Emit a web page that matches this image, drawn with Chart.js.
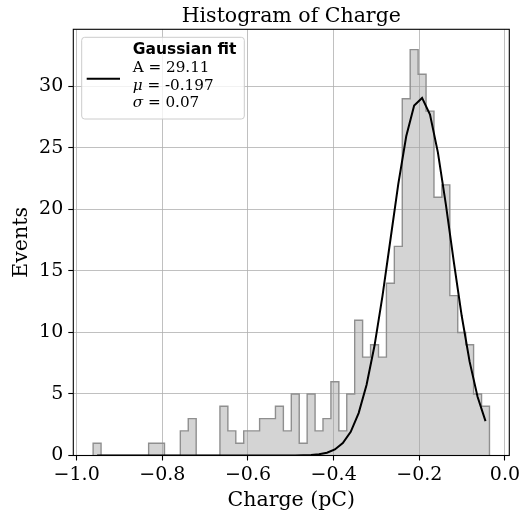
<!DOCTYPE html>
<html>
<head>
<meta charset="utf-8">
<script src="https://cdn.jsdelivr.net/npm/chart.js@4.4.1/dist/chart.umd.min.js"></script>
<style>
  html, body { margin: 0; padding: 0; background: #fff; }
  #wrap { width: 525px; height: 514px; }
</style>
</head>
<body>
<div id="wrap"><canvas id="chart" width="525" height="514"></canvas></div>
<script>
// ─── Data ───────────────────────────────────────────────────────────────────

const binEdges = [
  -0.9616, -0.9431, -0.9246, -0.9061, -0.8876, -0.8691, -0.8505, -0.8320, -0.8135, -0.7950,
  -0.7765, -0.7580, -0.7395, -0.7210, -0.7025, -0.6840, -0.6655, -0.6470, -0.6285, -0.6100,
  -0.5914, -0.5729, -0.5544, -0.5359, -0.5174, -0.4989, -0.4804, -0.4619, -0.4434, -0.4249,
  -0.4064, -0.3879, -0.3694, -0.3509, -0.3324, -0.3138, -0.2953, -0.2768, -0.2583, -0.2398,
  -0.2213, -0.2028, -0.1843, -0.1658, -0.1473, -0.1288, -0.1103, -0.0918, -0.0733, -0.0547,
  -0.0362
];

const counts = [
  1, 0, 0, 0, 0, 0, 0, 1, 1, 0,
  0, 2, 3, 0, 0, 0, 4, 2, 1, 2,
  2, 3, 3, 4, 2, 5, 1, 5, 2, 3,
  6, 2, 5, 11, 8, 9, 8, 14, 17, 29,
  33, 31, 28, 21, 22, 13, 10, 9, 5, 4
];

// Gaussian fit evaluated at the bin centres
const fitValues = [
  0, 0, 0, 0, 0, 0, 0, 0, 0, 0,
  0, 0, 0, 0, 0, 0, 0, 0, 0, 0,
  0, 0, 0, 0, 0, 0.005, 0.014, 0.037, 0.094, 0.222,
  0.489, 1.006, 1.929, 3.449, 5.749, 8.94, 12.96, 17.52, 22.08, 25.95,
  28.45, 29.07, 27.71, 24.62, 20.41, 15.77, 11.36, 7.63, 4.78, 2.79
];

const xTicks = [-1.0, -0.8, -0.6, -0.4, -0.2, 0.0];
const yTicks = [0, 5, 10, 15, 20, 25, 30];

const X_MIN = -1.0079, X_MAX = 0.0101;
const Y_MIN = 0, Y_MAX = 34.65;

const legendTitle = "Gaussian fit";
const legendRows = [
  { sym: "A", text: " = 29.11", italic: false },
  { sym: "\u03bc", text: " = -0.197", italic: true },
  { sym: "\u03c3", text: " = 0.07", italic: true },
];

// ─── Build the datasets ─────────────────────────────────────────────────────

const histPoints = [{ x: binEdges[0], y: 0 }]
  .concat(counts.map((c, i) => ({ x: binEdges[i], y: c })))
  .concat([{ x: binEdges[binEdges.length - 1], y: 0 }]);

const fitPoints = fitValues.map((v, i) => ({
  x: (binEdges[i] + binEdges[i + 1]) / 2,
  y: v
}));

const SERIF = "'DejaVu Serif', serif";
const SANS = "'DejaVu Sans', sans-serif";

function fmtX(v) {
  if (Math.abs(v) < 1e-9) return "0.0";
  return (v < 0 ? "\u2212" : "") + Math.abs(v).toFixed(1);
}

// ─── Extra drawing: title, spines, legend ──────────────────────────────────

const framePlugin = {
  id: "frame",
  afterDatasetsDraw(chart) {
    const { ctx, chartArea: a } = chart;
    ctx.save();
    ctx.strokeStyle = "#000";
    ctx.lineWidth = 1.1;
    ctx.strokeRect(a.left, a.top, a.right - a.left, a.bottom - a.top);
    ctx.restore();
  },
  afterDraw(chart) {
    const { ctx, chartArea: a } = chart;
    ctx.save();

    // title
    ctx.fillStyle = "#000";
    ctx.font = "20.5px " + SERIF;
    ctx.textAlign = "center";
    ctx.textBaseline = "alphabetic";
    ctx.fillText("Histogram of Charge", (a.left + a.right) / 2, 21.5);

    // legend frame
    const bx = 81.7, by = 37.3, bw = 162.6, bh = 81.7, r = 3;
    ctx.beginPath();
    ctx.roundRect(bx, by, bw, bh, r);
    ctx.fillStyle = "rgba(255,255,255,0.8)";
    ctx.fill();
    ctx.strokeStyle = "#cccccc";
    ctx.lineWidth = 1;
    ctx.stroke();

    // handle
    ctx.beginPath();
    ctx.moveTo(86.7, 78.7);
    ctx.lineTo(120, 78.7);
    ctx.strokeStyle = "#000";
    ctx.lineWidth = 2;
    ctx.stroke();

    // text
    ctx.textAlign = "left";
    ctx.textBaseline = "middle";
    ctx.fillStyle = "#000";
    ctx.font = "bold 15.5px " + SANS;
    ctx.fillText(legendTitle, 132.7, 50);

    const rowY = [68, 86, 103.5];
    legendRows.forEach((row, i) => {
      ctx.font = (row.italic ? "italic " : "") + "15.2px " + SERIF;
      ctx.fillText(row.sym, 132.7, rowY[i]);
      const w = ctx.measureText(row.sym).width;
      ctx.font = "15.2px " + SERIF;
      ctx.fillText(row.text, 132.7 + w, rowY[i]);
    });

    ctx.restore();
  }
};

// ─── Chart ─────────────────────────────────────────────────────────────────

const tickFont = { family: SERIF, size: 19 };
const labelFont = { family: SERIF, size: 20.5 };
const gridOpts = {
  color: "#b0b0b0",
  lineWidth: 0.8,
  tickColor: "#000",
  tickLength: 5,
  tickWidth: 1.1,
};

new Chart(document.getElementById("chart").getContext("2d"), {
  type: "line",
  data: {
    datasets: [
      {
        label: "Gaussian fit",
        data: fitPoints,
        borderColor: "#000",
        borderWidth: 2,
        pointRadius: 0,
        fill: false,
        tension: 0,
      },
      {
        label: "Charge",
        data: histPoints,
        stepped: "before",
        borderColor: "#8f8f8f",
        borderWidth: 1.4,
        backgroundColor: "rgba(160,160,160,0.45)",
        fill: "origin",
        pointRadius: 0,
      }
    ]
  },
  options: {
    responsive: false,
    animation: false,
    devicePixelRatio: 1,
    layout: { padding: { left: 0, right: 15.7, top: 29.3, bottom: 0 } },
    plugins: {
      legend: { display: false },
      tooltip: { enabled: false },
      title: { display: false },
    },
    scales: {
      x: {
        type: "linear",
        min: X_MIN,
        max: X_MAX,
        afterBuildTicks: (axis) => { axis.ticks = xTicks.map(v => ({ value: v })); },
        afterFit: (s) => { s.height = 58.5; },
        border: { display: false },
        grid: gridOpts,
        ticks: {
          font: tickFont,
          color: "#000",
          padding: 3,
          maxRotation: 0,
          autoSkip: false,
          callback: (v) => fmtX(v),
        },
        title: {
          display: true,
          text: "Charge (pC)",
          font: labelFont,
          color: "#000",
          padding: { top: 0, bottom: 1 },
        },
      },
      y: {
        type: "linear",
        min: Y_MIN,
        max: Y_MAX,
        afterBuildTicks: (axis) => { axis.ticks = yTicks.map(v => ({ value: v })); },
        afterFit: (s) => { s.width = 73.3; },
        border: { display: false },
        grid: gridOpts,
        ticks: {
          font: tickFont,
          color: "#000",
          padding: 5,
          autoSkip: false,
          callback: (v) => String(v),
        },
        title: {
          display: true,
          text: "Events",
          font: labelFont,
          color: "#000",
          padding: { top: 9, bottom: 0 },
        },
      }
    }
  },
  plugins: [framePlugin]
});
</script>
</body>
</html>
